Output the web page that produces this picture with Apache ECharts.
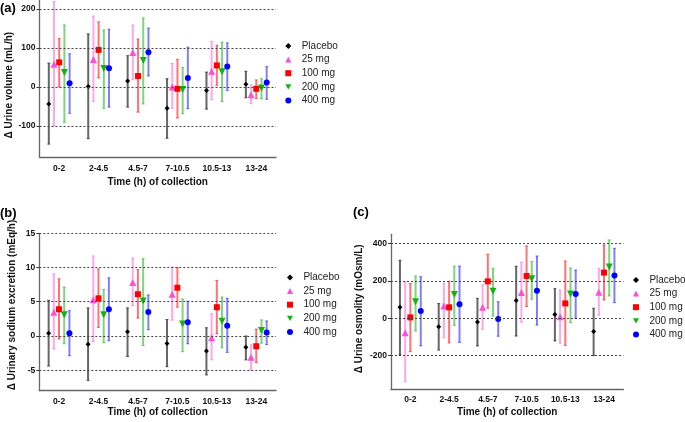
<!DOCTYPE html>
<html>
<head>
<meta charset="utf-8">
<script src="https://cdn.jsdelivr.net/npm/echarts@6/dist/echarts.min.js"></script>
<style>
html,body{margin:0;padding:0;background:#fff;}
#chart{width:685px;height:422px;}
</style>
</head>
<body>
<div id="chart"></div>
<script>
// ---------------- DATA ----------------
const categories = ['0-2', '2-4.5', '4.5-7', '7-10.5', '10.5-13', '13-24'];
const seriesNames = ['Placebo', '25 mg', '100 mg', '200 mg', '400 mg'];

// (a) Δ Urine volume (mL/h): [mean, lower, upper] per collection period
const volPlacebo = [[-44, -147, 61], [1, -133, 136], [15, -52, 80], [-55, -132, 21], [-9, -57, 38], [7, -28, 40]];
const vol25 = [[58, -100, 219], [70, -38, 182], [88, 18, 159], [0, -55, 60], [40, -33, 117], [-20, -43, 5]];
const vol100 = [[63, 0, 124], [95, 23, 167], [28, -65, 123], [-5, -80, 71], [55, 4, 107], [-5, -30, 18]];
const vol200 = [[37, -91, 159], [47, -55, 146], [68, -44, 177], [-7, -69, 50], [39, -38, 115], [-3, -31, 21]];
const vol400 = [[9, -68, 85], [48, -52, 148], [89, 28, 151], [23, -56, 102], [52, -9, 113], [11, -32, 52]];
const volTicks = [-100, 0, 100, 200];

// (b) Δ Urinary sodium excretion (mEq/h)
const naPlacebo = [[0.4, -4.4, 5.2], [-1.2, -6.5, 4.1], [0.6, -3.0, 4.1], [-1.1, -4.5, 2.4], [-2.2, -5.7, 1.2], [-1.65, -3.5, 0]];
const na25 = [[3.45, -1.9, 9.1], [5.3, -0.8, 11.7], [7.8, 4.4, 11.4], [6.1, 2.3, 10.1], [-0.25, -3.5, 3.25], [-3.1, -5.0, -1.3]];
const na100 = [[3.9, -0.45, 8.35], [5.5, 1.25, 9.8], [6.1, 2.6, 9.7], [7.05, 4.2, 10.0], [4.2, 0.3, 8.1], [-1.5, -3.9, 1.0]];
const na200 = [[3.1, -1.15, 7.15], [3.1, -1.0, 6.8], [5.1, -1.4, 11.3], [1.75, -2.3, 5.4], [2.15, -1.75, 5.7], [0.8, -1.05, 2.35]];
const na400 = [[0.4, -2.9, 3.7], [3.9, -0.7, 8.5], [3.5, 0.9, 6.0], [2.0, -1.15, 5.1], [1.5, -2.4, 5.5], [0.5, -1.25, 2.2]];
const naTicks = [-5, 0, 5, 10, 15];

// (c) Δ Urine osmolity (mOsm/L)
const osmPlacebo = [[59, -196, 311], [-45, -170, 79], [-20, -148, 107], [95, -95, 279], [21, -121, 159], [-71, -200, 54]];
const osm25 = [[-77, -339, 196], [66, -104, 188], [59, -59, 179], [139, -21, 300], [9, -134, 152], [140, 16, 268]];
const osm100 = [[5, -179, 186], [59, -132, 198], [198, 54, 343], [227, 63, 388], [80, -145, 307], [245, 98, 393]];
const osm200 = [[89, -68, 227], [127, -38, 280], [145, 12, 268], [212, 102, 304], [130, -23, 270], [275, 120, 420]];
const osm400 = [[39, -148, 223], [75, -129, 280], [-4, -96, 89], [148, -36, 334], [130, 0, 259], [230, 84, 375]];
const osmTicks = [-200, 0, 200, 400];

// ---------------- STYLE ----------------
const FONT = 'Liberation Sans, Arial, Helvetica, sans-serif';
const markerColors = ['#000000', '#ff4fd8', '#ff0000', '#12b312', '#0000ff'];
const barColors = ['rgba(0,0,0,0.6)', 'rgba(255,80,216,0.5)', 'rgba(255,0,0,0.55)', 'rgba(18,179,18,0.55)', 'rgba(0,0,255,0.5)'];
const symbols = ['diamond', 'triangle', 'rect', 'triangle', 'circle'];
const legendIcons = ['diamond', 'triangle', 'rect', 'path://M0,0L10,0L5,8.66Z', 'circle'];
const symbolSizes = [5, 7, 6, 7, 6];
const symbolRotates = [0, 0, 0, 180, 0];
const offsets = [-10.4, -5.2, 0, 5.2, 10.4];

const panels = [
  { label: '(a)', grid: { left: 39.5, top: 0.4, width: 236.5, height: 156.6 }, min: -180, max: 222, ticks: volTicks,
    yName: 'Δ Urine volume (mL/h)', yGap: 20, yPad: [0, 13, 0, 0], xGap: 20, lblMargin: 7,
    legend: { left: 285.3, top: 40 }, title: { left: 0, top: 2 },
    data: [volPlacebo, vol25, vol100, vol200, vol400] },
  { label: '(b)', grid: { left: 39.3, top: 233.3, width: 236.7, height: 157.4 }, min: -8, max: 15, ticks: naTicks,
    yName: 'Δ Urinary sodium excretion (mEq/h)', yGap: 22, yPad: [0, 0, 0, 14], xGap: 17, lblMargin: 6,
    legend: { left: 287, top: 271.5 }, title: { left: 0, top: 207 },
    data: [naPlacebo, na25, na100, na200, na400] },
  { label: '(c)', grid: { left: 391, top: 234.3, width: 232.4, height: 155 }, min: -380, max: 450, ticks: osmTicks,
    yName: 'Δ Urine osmolity (mOsm/L)', yGap: 27, yPad: [0, 0, 0, 6], xGap: 17.5, lblMargin: 6,
    legend: { left: 633, top: 274 }, title: { left: 353, top: 206 },
    data: [osmPlacebo, osm25, osm100, osm200, osm400] }
];

function makeBar(off, color) {
  return function (params, api) {
    const hi = api.coord([api.value(0), api.value(2)]);
    const lo = api.coord([api.value(0), api.value(1)]);
    const cx = hi[0] + off;
    const capStyle = { stroke: color, lineWidth: 1 };
    return {
      type: 'group',
      children: [
        { type: 'line', shape: { x1: cx, y1: hi[1], x2: cx, y2: lo[1] }, style: { stroke: color, lineWidth: 2 } },
        { type: 'line', shape: { x1: cx - 1.5, y1: hi[1], x2: cx + 1.5, y2: hi[1] }, style: capStyle },
        { type: 'line', shape: { x1: cx - 1.5, y1: lo[1], x2: cx + 1.5, y2: lo[1] }, style: capStyle }
      ]
    };
  };
}

const grids = [], xAxes = [], yAxes = [], series = [], legends = [], titles = [];

panels.forEach((p, pi) => {
  grids.push(Object.assign({ containLabel: false }, p.grid));
  titles.push({ text: p.label, left: p.title.left, top: p.title.top, padding: 0,
    textStyle: { fontFamily: FONT, fontSize: 13, fontWeight: 'bold', color: '#000' } });
  xAxes.push({
    type: 'category', gridIndex: pi, data: categories, boundaryGap: true,
    axisLine: { show: true, onZero: false, lineStyle: { color: '#666', width: 1.3 } },
    axisTick: { show: false },
    axisLabel: { interval: 0, margin: p.lblMargin, fontFamily: FONT, fontSize: 8.5, fontWeight: 'bold', color: '#111' },
    splitLine: { show: false },
    name: 'Time (h) of collection', nameLocation: 'middle', nameGap: p.xGap,
    nameTextStyle: { fontFamily: FONT, fontSize: 10, fontWeight: 'bold', color: '#111' }
  });
  yAxes.push({
    type: 'value', gridIndex: pi, min: p.min, max: p.max,
    axisLine: { show: true, onZero: false, lineStyle: { color: '#666', width: 1.3 } },
    axisTick: { show: true, customValues: p.ticks, length: 3, lineStyle: { color: '#333', width: 1 } },
    axisLabel: { customValues: p.ticks, margin: 4, fontFamily: FONT, fontSize: 8.5, fontWeight: 'bold', color: '#111' },
    splitLine: { show: false },
    name: p.yName, nameLocation: 'middle', nameGap: p.yGap, nameRotate: 90,
    nameTextStyle: { fontFamily: FONT, fontSize: 10, fontWeight: 'bold', color: '#111', padding: p.yPad }
  });
  // dotted reference lines at major ticks
  series.push({
    type: 'scatter', name: 'gridlines' + pi, xAxisIndex: pi, yAxisIndex: pi, data: [], z: 0, silent: true,
    markLine: {
      silent: true, symbol: ['none', 'none'], animation: false, label: { show: false },
      lineStyle: { type: [2, 2], color: '#444', width: 1 },
      data: p.ticks.map(v => ({ yAxis: v }))
    }
  });
  p.data.forEach((arr, si) => {
    series.push({
      type: 'scatter', name: seriesNames[si], xAxisIndex: pi, yAxisIndex: pi, z: 3,
      data: arr.map((d, i) => [i, d[0]]),
      symbol: symbols[si], symbolSize: symbolSizes[si], symbolRotate: symbolRotates[si],
      symbolOffset: [offsets[si], 0],
      itemStyle: { color: markerColors[si], opacity: 1 },
      silent: true, animation: false
    });
    series.push({
      type: 'custom', name: seriesNames[si], xAxisIndex: pi, yAxisIndex: pi, z: 2,
      data: arr.map((d, i) => [i, d[1], d[2]]),
      encode: { x: 0, y: [1, 2] },
      renderItem: makeBar(offsets[si], barColors[si]),
      silent: true, animation: false
    });
  });
  legends.push({
    data: seriesNames.map((n, si) => ({ name: n, icon: legendIcons[si], itemStyle: { color: markerColors[si] } })),
    orient: 'vertical', left: p.legend.left, top: p.legend.top, padding: 0,
    itemWidth: 6, itemHeight: 6, itemGap: 1.6, selectedMode: false, symbolRotate: 0,
    textStyle: { fontFamily: FONT, fontSize: 10, color: '#222', lineHeight: 12, padding: [0, 0, 0, 5.4] }
  });
});

const chart = echarts.init(document.getElementById('chart'), null, { renderer: 'canvas' });
chart.setOption({
  animation: false,
  backgroundColor: '#ffffff',
  title: titles,
  grid: grids,
  xAxis: xAxes,
  yAxis: yAxes,
  legend: legends,
  series: series
});
</script>
</body>
</html>
